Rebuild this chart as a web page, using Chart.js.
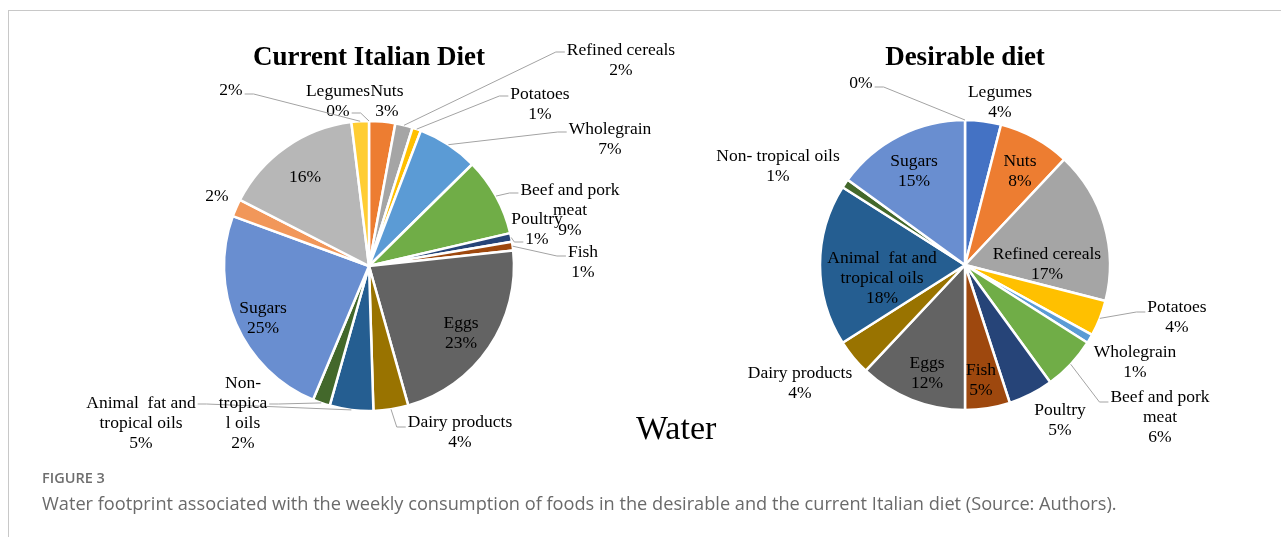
<!DOCTYPE html>
<html>
<head>
<meta charset="utf-8">
<script src="https://cdn.jsdelivr.net/npm/chart.js@4.4.1/dist/chart.umd.min.js"></script>
<style>
	html, body { margin: 0; padding: 0; background: #fff; }
	body { position: relative; width: 1281px; height: 537px; overflow: hidden; }
	.frame { position: absolute; left: 8px; top: 10px; right: 0; bottom: 0; border-top: 1px solid #c8c8c8; border-left: 1px solid #c8c8c8; }
	canvas { position: absolute; left: 0; top: 0; }
	.water { position: absolute; left: 636px; top: 411px; font: 34px/34px "Liberation Serif", serif; color: #000; }
	.fig-no { position: absolute; left: 42px; top: 471px; font: 600 14.5px/14.5px "Open Sans", sans-serif; color: #6e6e6e; }
	.caption { position: absolute; left: 42px; top: 494px; font: 18.2px/18.2px "Open Sans", sans-serif; color: #6a6a6a; white-space: nowrap; }
</style>
</head>
<body>
<div class="frame"></div>
<canvas id="currentChart" width="1281" height="537"></canvas>
<canvas id="desirableChart" width="1281" height="537"></canvas>
<div class="water">Water</div>
<div class="fig-no">FIGURE 3</div>
<div class="caption">Water footprint associated with the weekly consumption of foods in the desirable and the current Italian diet (Source: Authors).</div>

<script>
/* food groups, same order in both pies (last three have no name in the chart) */
var categories = ['Legumes', 'Nuts', 'Refined cereals', 'Potatoes', 'Wholegrain', 'Beef and pork meat',
	'Poultry', 'Fish', 'Eggs', 'Dairy products', 'Animal  fat and tropical oils', 'Non- tropical oils',
	'Sugars', '', '', ''];

/* share of weekly water footprint, % */
var currentDiet   = [0, 3, 2, 1, 7, 9, 1, 1, 23, 4, 5, 2, 25, 2, 16, 2];
var desirableDiet = [4, 8, 17, 4, 1, 6, 5, 5, 12, 4, 18, 1, 15, 0];

/* office palette */
var sliceColors = ['#4472C4', '#ED7D31', '#A5A5A5', '#FFC000', '#5B9BD5', '#70AD47', '#264478', '#9E480E',
	'#636363', '#997300', '#255E91', '#43682B', '#698ED0', '#F1975A', '#B7B7B7', '#FFCD33'];

/* label placement: offset of first text line from pie centre, wrap width, leader start line */
var currentLabels = [
	{at: [-31, -175], leader: 1.1},
	{at: [18, -175]},
	{at: [252, -216], leader: 0.1},
	{at: [171, -172], leader: 0.1},
	{at: [241, -137], leader: 0.15},
	{at: [201, -76], wrap: 110, leader: 0.15},
	{at: [168, -47], leader: 1.15},
	{at: [214, -14], leader: 0.2},
	{at: [92, 57]},
	{at: [91, 156], leader: 0.25},
	{at: [-228, 137], wrap: 115, leader: 0.05},
	{at: [-126, 117], wrap: 50, leader: 1.05},
	{at: [-106, 42]},
	{at: [-152, -70]},
	{at: [-64, -89]},
	{at: [-138, -176], leader: 0.2}
];

var desirableLabels = [
	{at: [35, -173]},
	{at: [55, -104]},
	{at: [82, -11]},
	{at: [212, 42], leader: 0.25},
	{at: [170, 87]},
	{at: [195, 132], wrap: 110, leader: 0.25},
	{at: [95, 145]},
	{at: [16, 105]},
	{at: [-38, 98]},
	{at: [-165, 108]},
	{at: [-83, -7], wrap: 115},
	{at: [-187, -109]},
	{at: [-51, -104]},
	{at: [-104, -182], leader: 0.2}
];

/* break a name into lines no wider than maxWidth (long words are cut) */
function wrapText(ctx, text, maxWidth) {
	var lines = [], line = '';
	if (!text) return lines;
	text.split(' ').forEach(function(word) {
		var test = line ? line + ' ' + word : word;
		if (ctx.measureText(test).width <= maxWidth || !line) {
			line = test;
		} else {
			lines.push(line);
			line = word;
		}
		while (ctx.measureText(line).width > maxWidth) {
			var cut = line.length - 1;
			while (cut > 1 && ctx.measureText(line.slice(0, cut)).width > maxWidth) cut--;
			lines.push(line.slice(0, cut));
			line = line.slice(cut);
		}
	});
	if (line) lines.push(line);
	return lines;
}

/* data labels with leader lines, excel style */
var sliceLabels = {
	id: 'sliceLabels',
	afterDatasetsDraw: function(chart, args, opts) {
		var ctx = chart.ctx,
			meta = chart.getDatasetMeta(0),
			values = chart.data.datasets[0].data;

		ctx.save();
		ctx.font = opts.size + 'px "Liberation Serif", serif';
		ctx.fillStyle = '#000';
		ctx.textAlign = 'center';
		ctx.textBaseline = 'middle';

		opts.layout.forEach(function(spec, i) {
			var arc = meta.data[i];
			if (!spec || !arc) return;

			var lines = wrapText(ctx, chart.data.labels[i], spec.wrap || Infinity);
			lines.push(values[i] + '%');

			var x = arc.x + spec.at[0],
				y = arc.y + spec.at[1];

			lines.forEach(function(t, k) {
				ctx.fillText(t, x, y + k * opts.lineHeight);
			});

			if (spec.leader === undefined) return;

			var mid = (arc.startAngle + arc.endAngle) / 2,
				px = arc.x + Math.cos(mid) * arc.outerRadius,
				py = arc.y + Math.sin(mid) * arc.outerRadius,
				w = ctx.measureText(lines[Math.floor(spec.leader)]).width,
				side = px > x ? 1 : -1,
				ly = y + spec.leader * opts.lineHeight,
				sx = x + side * (w / 2 + 2);

			ctx.strokeStyle = '#a3a3a3';
			ctx.lineWidth = 1;
			ctx.beginPath();
			ctx.moveTo(sx, ly);
			ctx.lineTo(sx + side * 9, ly);
			ctx.lineTo(px, py);
			ctx.stroke();
		});
		ctx.restore();
	}
};

function pieConfig(title, values, labelLayout, padding) {
	return {
		type: 'pie',
		data: {
			labels: categories.slice(0, values.length),
			datasets: [{
				data: values,
				backgroundColor: sliceColors.slice(0, values.length),
				borderColor: '#fff',
				borderWidth: 2.5,
				radius: 145,
				hoverOffset: 0
			}]
		},
		options: {
			responsive: false,
			animation: false,
			events: [],
			layout: {padding: padding},
			plugins: {
				legend: {display: false},
				tooltip: {enabled: false},
				title: {
					display: true,
					text: title,
					color: '#000',
					font: {family: '"Liberation Serif", serif', size: 27, weight: 'bold'},
					padding: {top: 42, bottom: 10}
				},
				sliceLabels: {layout: labelLayout, size: 17.5, lineHeight: 20}
			}
		},
		plugins: [sliceLabels]
	};
}

/* title box is 42 + 27*1.2 + 10 = 84.4px tall, bottom padding puts the pie centre where wanted */
new Chart(document.getElementById('currentChart').getContext('2d'),
	pieConfig('Current Italian Diet', currentDiet, currentLabels, {left: 0, right: 543, top: 0, bottom: 89.4}));

new Chart(document.getElementById('desirableChart').getContext('2d'),
	pieConfig('Desirable diet', desirableDiet, desirableLabels, {left: 649, right: 0, top: 0, bottom: 91.4}));
</script>
</body>
</html>
